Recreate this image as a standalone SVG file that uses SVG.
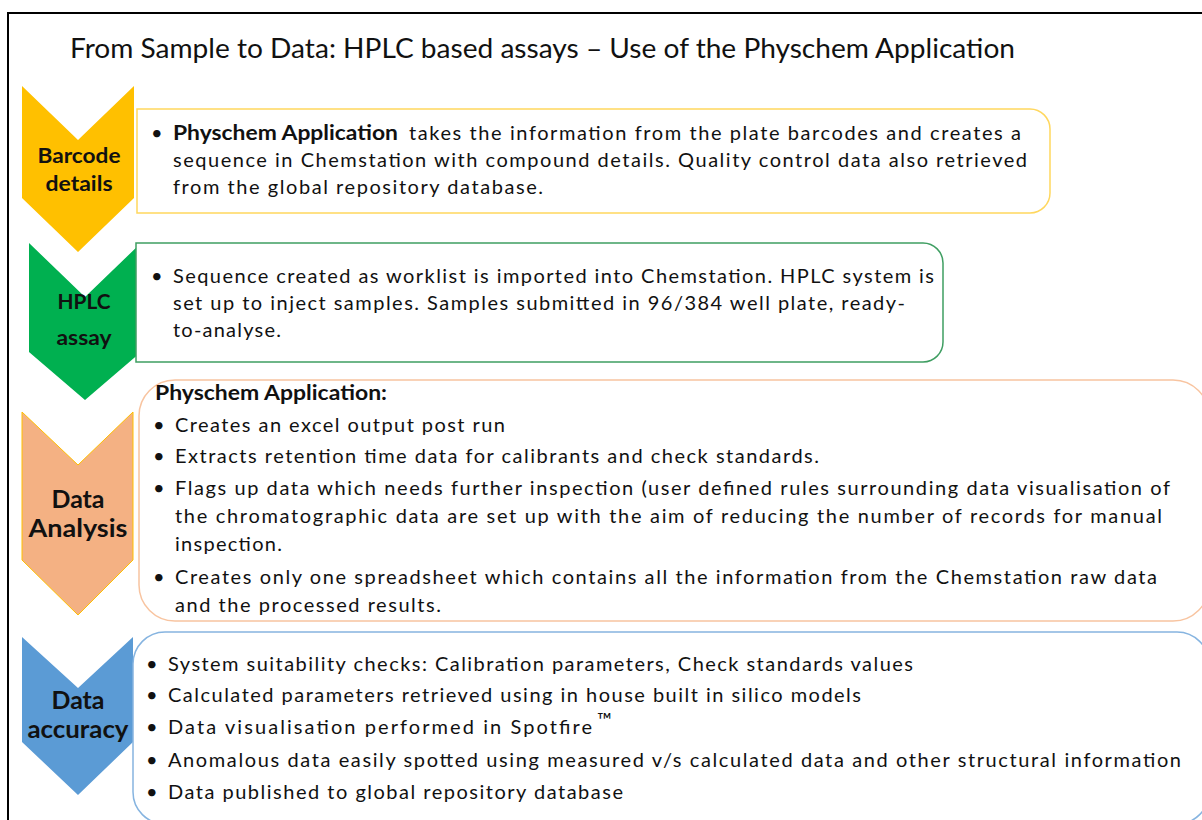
<svg xmlns="http://www.w3.org/2000/svg" width="1202" height="820" viewBox="0 0 1202 820">
<style>
.t{font-family:Lato,"Open Sans","Liberation Sans",sans-serif;font-size:20px;fill:#111;}
.b{font-weight:bold;}
.lbl{font-family:Lato,"Open Sans","Liberation Sans",sans-serif;font-weight:bold;fill:#111;text-anchor:middle;}
.title{font-family:Lato,"Open Sans","Liberation Sans",sans-serif;font-size:27px;fill:#111;}
.box{fill:#fff;stroke-width:1.5;}
</style>
<rect x="8" y="13" width="1200" height="820" fill="#fff" stroke="#000" stroke-width="2"/>
<text class="title" x="70" y="58" textLength="945" lengthAdjust="spacingAndGlyphs">From Sample to Data: HPLC based assays – Use of the Physchem Application</text>

<g id="connectors"></g>

<g id="barcode">
<polygon points="22,86 78,140 134,86 134,198 78,252 22,198" fill="#FFC000"/>
<path class="box" d="M137,109 H1030 A20,20 0 0 1 1050,129 V193 A20,20 0 0 1 1030,213 H137 Z" stroke="#FFD75E"/>
<text class="lbl" x="79" y="163" font-size="21" textLength="83" lengthAdjust="spacingAndGlyphs">Barcode</text>
<text class="lbl" x="79" y="191" font-size="21" textLength="67" lengthAdjust="spacingAndGlyphs">details</text>
<text class="t" x="151" y="140">•</text>
<text class="t b" x="173" y="140" textLength="225" lengthAdjust="spacingAndGlyphs">Physchem Application</text>
<text class="t" x="409" y="140" textLength="612">takes the information from the plate barcodes and creates a</text>
<text class="t" x="173" y="167" textLength="854">sequence in Chemstation with compound details. Quality control data also retrieved</text>
<text class="t" x="173" y="194" textLength="370">from the global repository database.</text>
</g>

<g id="hplc">
<polygon points="29,243 85,297 141,243 141,352 85,400 29,352" fill="#00B050"/>
<path class="box" d="M136,243 H923 A20,20 0 0 1 943,263 V342 A20,20 0 0 1 923,362 H136 Z" stroke="#3F9E62"/>
<text class="lbl" x="84" y="309" font-size="21" textLength="53" lengthAdjust="spacingAndGlyphs">HPLC</text>
<text class="lbl" x="84" y="345" font-size="21" textLength="55" lengthAdjust="spacingAndGlyphs">assay</text>
<text class="t" x="151" y="283">•</text>
<text class="t" x="173" y="283" textLength="761">Sequence created as worklist is imported into Chemstation. HPLC system is</text>
<text class="t" x="173" y="310" textLength="732">set up to inject samples. Samples submitted in 96/384 well plate, ready-</text>
<text class="t" x="173" y="337" textLength="108">to-analyse.</text>
</g>

<g id="analysis">
<polygon points="22,412 78,465 133,412 133,560 78,615 22,560" fill="#F4B183" stroke="#FFC000" stroke-width="1"/>
<rect class="box" x="139" y="380" width="1070" height="241" rx="36" stroke="#F8C4A0"/>
<text class="lbl" x="78" y="508" font-size="24" textLength="53" lengthAdjust="spacingAndGlyphs">Data</text>
<text class="lbl" x="78" y="537" font-size="24" textLength="99" lengthAdjust="spacingAndGlyphs">Analysis</text>
<text class="t b" x="155" y="400" textLength="232" lengthAdjust="spacingAndGlyphs">Physchem Application:</text>
<text class="t" x="153" y="432">•</text>
<text class="t" x="175" y="432" textLength="330">Creates an excel output post run</text>
<text class="t" x="153" y="463">•</text>
<text class="t" x="175" y="463" textLength="644">Extracts retention time data for calibrants and check standards.</text>
<text class="t" x="153" y="495">•</text>
<text class="t" x="175" y="495" textLength="995">Flags up data which needs further inspection (user defined rules surrounding data visualisation of</text>
<text class="t" x="175" y="523" textLength="987">the chromatographic data are set up with the aim of reducing  the number of records for manual</text>
<text class="t" x="175" y="551" textLength="107">inspection.</text>
<text class="t" x="153" y="584">•</text>
<text class="t" x="175" y="584" textLength="982">Creates only one spreadsheet which contains all the information from the Chemstation raw data</text>
<text class="t" x="175" y="612" textLength="266">and the processed results.</text>
</g>

<g id="accuracy">
<polygon points="22,637 78,688 133,637 133,742 78,795 22,742" fill="#5B9BD5"/>
<rect class="box" x="133" y="632" width="1076" height="192" rx="32" stroke="#86B4E0"/>
<text class="lbl" x="78" y="709" font-size="24" textLength="53" lengthAdjust="spacingAndGlyphs">Data</text>
<text class="lbl" x="78" y="738" font-size="24" textLength="101" lengthAdjust="spacingAndGlyphs">accuracy</text>
<text class="t" x="146" y="671">•</text>
<text class="t" x="168" y="671" textLength="745">System suitability checks: Calibration parameters, Check standards values</text>
<text class="t" x="146" y="702">•</text>
<text class="t" x="168" y="702" textLength="693">Calculated parameters retrieved using in house built in silico models</text>
<text class="t" x="146" y="734">•</text>
<text class="t" x="168" y="734" textLength="424">Data visualisation performed in Spotfire</text>
<text class="t" x="597" y="727" font-size="13">™</text>
<text class="t" x="146" y="767">•</text>
<text class="t" x="168" y="767" textLength="1013">Anomalous data easily spotted using measured v/s calculated data and other structural information</text>
<text class="t" x="146" y="799">•</text>
<text class="t" x="168" y="799" textLength="455">Data published to global repository database</text>
</g>
</svg>
